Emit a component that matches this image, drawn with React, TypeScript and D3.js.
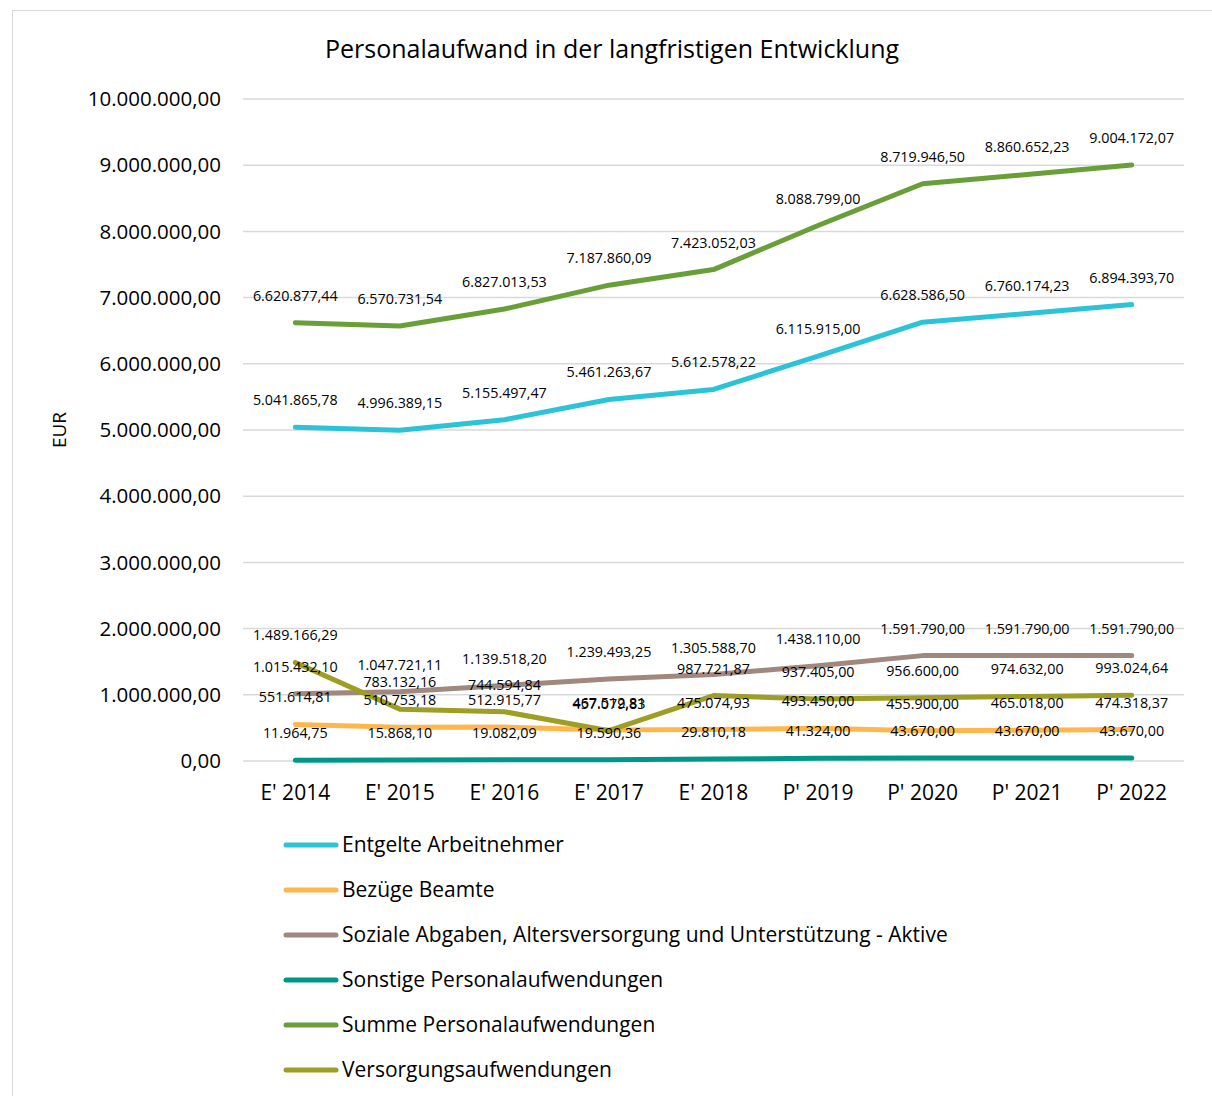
import React, { useEffect, useRef } from 'react';
import * as d3 from 'd3';

const categories = ["E' 2014", "E' 2015", "E' 2016", "E' 2017", "E' 2018", "P' 2019", "P' 2020", "P' 2021", "P' 2022"];

const entgelte = [5041865.78, 4996389.15, 5155497.47, 5461263.67, 5612578.22, 6115915.0, 6628586.5, 6760174.23, 6894393.7];
const bezuege = [551614.81, 510753.18, 512915.77, 467512.81, 475074.93, 493450.0, 455900.0, 465018.0, 474318.37];
const soziale = [1015432.1, 1047721.11, 1139518.2, 1239493.25, 1305588.7, 1438110.0, 1591790.0, 1591790.0, 1591790.0];
const sonstige = [11964.75, 15868.1, 19082.09, 19590.36, 29810.18, 41324.0, 43670.0, 43670.0, 43670.0];
const summe = [6620877.44, 6570731.54, 6827013.53, 7187860.09, 7423052.03, 8088799.0, 8719946.5, 8860652.23, 9004172.07];
const versorgung = [1489166.29, 783132.16, 744594.84, 457079.83, 987721.87, 937405.0, 956600.0, 974632.0, 993024.64];

const yTicks = [0, 1000000, 2000000, 3000000, 4000000, 5000000, 6000000, 7000000, 8000000, 9000000, 10000000];

const series = [
  { name: 'Entgelte Arbeitnehmer', values: entgelte, color: '#2cc3d9' },
  { name: 'Bezüge Beamte', values: bezuege, color: '#ffb74d' },
  { name: 'Soziale Abgaben, Altersversorgung und Unterstützung - Aktive', values: soziale, color: '#a1887f' },
  { name: 'Sonstige Personalaufwendungen', values: sonstige, color: '#009688' },
  { name: 'Summe Personalaufwendungen', values: summe, color: '#689f38' },
  { name: 'Versorgungsaufwendungen', values: versorgung, color: '#9e9d24' },
];

const FONT = "'Open Sans', 'Noto Sans', sans-serif";

export default function App() {
  const svgRef = useRef<SVGSVGElement>(null);

  useEffect(() => {
    if (!svgRef.current) return;
    const W = 1212;
    const H = 1096;
    const svg = d3.select(svgRef.current);
    svg.selectAll('*').remove();

    const de = d3.formatLocale({ decimal: ',', thousands: '.', grouping: [3], currency: ['', ' €'] });
    const fmt = de.format(',.2f');

    // chart frame
    svg.append('rect')
      .attr('x', 12.5).attr('y', 10.5)
      .attr('width', W).attr('height', H)
      .attr('fill', '#fff').attr('stroke', '#d9d9d9').attr('stroke-width', 1);

    const x = d3.scalePoint<string>().domain(categories).range([243, 1184]).padding(0.5);
    const y = d3.scaleLinear().domain([0, 10000000]).range([761, 99]);

    // title
    svg.append('text')
      .attr('x', 612).attr('y', 58)
      .attr('text-anchor', 'middle')
      .style('font-family', FONT).style('font-size', '25px').attr('fill', '#000')
      .text('Personalaufwand in der langfristigen Entwicklung');

    // gridlines + y tick labels
    const grid = svg.append('g');
    yTicks.forEach(t => {
      grid.append('line')
        .attr('x1', 243).attr('x2', 1184)
        .attr('y1', y(t)).attr('y2', y(t))
        .attr('stroke', '#d9d9d9').attr('stroke-width', 1.5);
      grid.append('text')
        .attr('x', 221).attr('y', y(t)).attr('dy', '0.35em')
        .attr('text-anchor', 'end')
        .style('font-family', FONT).style('font-size', '20.5px').attr('fill', '#000')
        .text(fmt(t));
    });

    // y title
    svg.append('text')
      .attr('transform', `translate(66,${(y(0) + y(10000000)) / 2}) rotate(-90)`)
      .attr('text-anchor', 'middle')
      .style('font-family', FONT).style('font-size', '19px').attr('fill', '#000')
      .text('EUR');

    // x labels
    categories.forEach(c => {
      svg.append('text')
        .attr('x', x(c)!).attr('y', 800)
        .attr('text-anchor', 'middle')
        .style('font-family', FONT).style('font-size', '21px').attr('fill', '#000')
        .text(c);
    });

    // lines
    const line = d3.line<number>()
      .x((d, i) => x(categories[i])!)
      .y(d => y(d));

    series.forEach(s => {
      svg.append('path')
        .datum(s.values)
        .attr('fill', 'none')
        .attr('stroke', s.color)
        .attr('stroke-width', 5)
        .attr('stroke-linecap', 'round')
        .attr('stroke-linejoin', 'round')
        .attr('d', line);
    });

    // data labels
    series.forEach(s => {
      s.values.forEach((v, i) => {
        svg.append('text')
          .attr('x', x(categories[i])!).attr('y', y(v) - 22)
          .attr('text-anchor', 'middle')
          .style('font-family', FONT).style('font-size', '14.3px').attr('fill', '#000')
          .text(fmt(v));
      });
    });

    // legend
    const lg = svg.append('g');
    series.forEach((s, i) => {
      const ly = 845 + i * 45;
      lg.append('line')
        .attr('x1', 286).attr('x2', 336)
        .attr('y1', ly).attr('y2', ly)
        .attr('stroke', s.color).attr('stroke-width', 5).attr('stroke-linecap', 'round');
      lg.append('text')
        .attr('x', 342).attr('y', ly).attr('dy', '0.35em')
        .style('font-family', FONT).style('font-size', '21px').attr('fill', '#000')
        .text(s.name);
    });
  }, []);

  return (
    <svg
      ref={svgRef}
      width={1212}
      height={1096}
      style={{ position: 'absolute', left: 0, top: 0, display: 'block', background: '#fff' }}
    />
  );
}
